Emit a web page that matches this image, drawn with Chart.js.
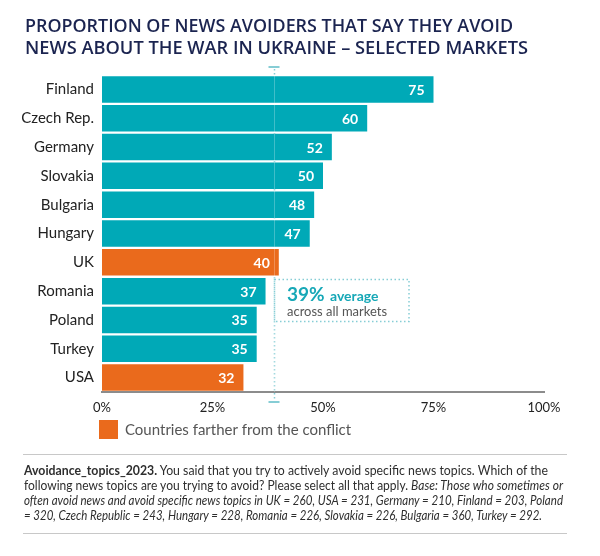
<!DOCTYPE html>
<html>
<head>
<meta charset="utf-8">
<script src="https://cdn.jsdelivr.net/npm/chart.js@4"></script>
<style>
  body { margin: 0; background: #fff; }
  #wrap { position: relative; width: 600px; height: 556px; overflow: hidden; font-family: Lato, sans-serif; }
  canvas { position: absolute; left: 0; top: 0; }
  .ln { position: absolute; left: 25px; white-space: nowrap; transform-origin: 0 0; line-height: 1; }
  .title { font-family: 'Open Sans', sans-serif; font-weight: 600; font-size: 18px; color: #1b2450; }
  .note { font-size: 13px; color: #2e2e2e; left: 24px; }
  .rule { position: absolute; left: 23px; width: 544px; border-top: 1.5px solid #c8c8c8; }
</style>
</head>
<body>
<div id="wrap">
  <canvas id="avoidChart" width="600" height="556"></canvas>
  <div class="ln title" data-w="488" style="top:16px">PROPORTION OF NEWS AVOIDERS THAT SAY THEY AVOID</div>
  <div class="ln title" data-w="503" style="top:38px">NEWS ABOUT THE WAR IN UKRAINE – SELECTED MARKETS</div>
  <div class="rule" style="top:454px"></div>
  <div class="ln note" data-w="524" style="top:464px"><b>Avoidance_topics_2023.</b> You said that you try to actively avoid specific news topics. Which of the</div>
  <div class="ln note" data-w="539" style="top:479px">following news topics are you trying to avoid? Please select all that apply. <i>Base: Those who sometimes or</i></div>
  <div class="ln note" data-w="539" style="top:494px"><i>often avoid news and avoid specific news topics in UK = 260, USA = 231, Germany = 210, Finland = 203, Poland</i></div>
  <div class="ln note" data-w="518" style="top:509px"><i>= 320, Czech Republic = 243, Hungary = 228, Romania = 226, Slovakia = 226, Bulgaria = 360, Turkey = 292.</i></div>
  <div class="rule" style="top:533px"></div>
</div>
<script>
// data
const countries = ['Finland', 'Czech Rep.', 'Germany', 'Slovakia', 'Bulgaria', 'Hungary', 'UK', 'Romania', 'Poland', 'Turkey', 'USA'];
const shares = [75, 60, 52, 50, 48, 47, 40, 37, 35, 35, 32];
const fartherFromConflict = [false, false, false, false, false, false, true, false, false, false, true];
const averageShare = 39;
const xTicks = [0, 25, 50, 75, 100];

const teal = '#00a9b7';
const orange = '#ea6a1c';
const dotColor = '#86cdd5';

// squeeze html text lines to the reference widths
document.querySelectorAll('.ln').forEach(el => {
    const w = el.getBoundingClientRect().width;
    el.style.transform = 'scaleX(' + (parseFloat(el.dataset.w) / w) + ')';
});

const extras = {
    id: 'extras',
    beforeDatasetsDraw(chart) {
        const { ctx, chartArea } = chart;
        const x = Math.round(chart.scales.x.getPixelForValue(averageShare)) + 0.5;
        ctx.save();
        ctx.strokeStyle = dotColor;
        ctx.lineWidth = 1.5;
        ctx.setLineDash([1.5, 2.5]);
        ctx.beginPath();
        ctx.moveTo(x, 69);
        ctx.lineTo(x, 400);
        ctx.stroke();
        ctx.setLineDash([]);
        ctx.lineWidth = 2;
        ctx.beginPath();
        ctx.moveTo(x - 6, 67); ctx.lineTo(x + 5, 67);
        ctx.moveTo(x - 6, 402); ctx.lineTo(x + 5, 402);
        ctx.stroke();
        ctx.restore();
    },
    afterDatasetsDraw(chart) {
        const { ctx } = chart;
        const meta = chart.getDatasetMeta(0);
        const xScale = chart.scales.x;
        ctx.save();
        // value labels
        ctx.fillStyle = '#fff';
        ctx.font = 'bold 14px Lato';
        ctx.textAlign = 'right';
        ctx.textBaseline = 'middle';
        meta.data.forEach((bar, i) => {
            ctx.fillText(String(shares[i]), bar.x - 9, bar.y + 1);
        });

        // faint average line through bars
        const x = Math.round(xScale.getPixelForValue(averageShare)) + 0.5;
        ctx.strokeStyle = 'rgba(255,255,255,0.25)';
        ctx.lineWidth = 1;
        ctx.beginPath();
        ctx.moveTo(x, chart.chartArea.top);
        ctx.lineTo(x, chart.chartArea.bottom);
        ctx.stroke();

        // average callout box
        ctx.strokeStyle = dotColor;
        ctx.lineWidth = 1.5;
        ctx.setLineDash([1.5, 2.5]);
        ctx.strokeRect(x, 279.5, 409 - x, 42);
        ctx.setLineDash([]);

        ctx.textAlign = 'left';
        ctx.textBaseline = 'alphabetic';
        ctx.fillStyle = '#17a8b7';
        ctx.font = 'bold 19px Lato';
        ctx.fillText(averageShare + '%', 287, 301, 40);
        ctx.font = 'bold 14px Lato';
        ctx.fillText('average', 330, 301, 50);
        ctx.fillStyle = '#555';
        ctx.font = '14px Lato';
        ctx.fillText('across all markets', 287, 316, 100);

        // legend
        ctx.fillStyle = orange;
        ctx.fillRect(99, 420, 19, 19);
        ctx.fillStyle = '#555';
        ctx.font = '15px Lato';
        ctx.textBaseline = 'middle';
        ctx.fillText('Countries farther from the conflict', 125, 430, 228);
        ctx.restore();
    }
};

new Chart(document.getElementById('avoidChart').getContext('2d'), {
    type: 'bar',
    data: {
        labels: countries,
        datasets: [{
            data: shares,
            backgroundColor: fartherFromConflict.map(f => f ? orange : teal),
            borderWidth: 0,
            barPercentage: 0.92,
            categoryPercentage: 1
        }]
    },
    options: {
        indexAxis: 'y',
        responsive: false,
        animation: false,
        layout: { padding: { top: 75, right: 56, left: 0, bottom: 0 } },
        plugins: { legend: { display: false }, tooltip: { enabled: false } },
        scales: {
            x: {
                min: 0,
                max: 100,
                afterFit: s => { s.height = 164; },
                afterBuildTicks: s => { s.ticks = xTicks.map(v => ({ value: v })); },
                grid: { display: false, drawTicks: false },
                border: { display: true, color: '#8c8c8c', width: 2 },
                ticks: {
                    padding: 8,
                    color: '#222',
                    font: { family: 'Lato', size: 13 },
                    callback: v => v + '%'
                }
            },
            y: {
                afterFit: s => { s.width = 102; },
                grid: { display: false, drawTicks: false },
                border: { display: false },
                ticks: {
                    padding: 8,
                    color: '#222',
                    font: { family: 'Lato', size: 15 }
                }
            }
        }
    },
    plugins: [extras]
});
</script>
</body>
</html>
